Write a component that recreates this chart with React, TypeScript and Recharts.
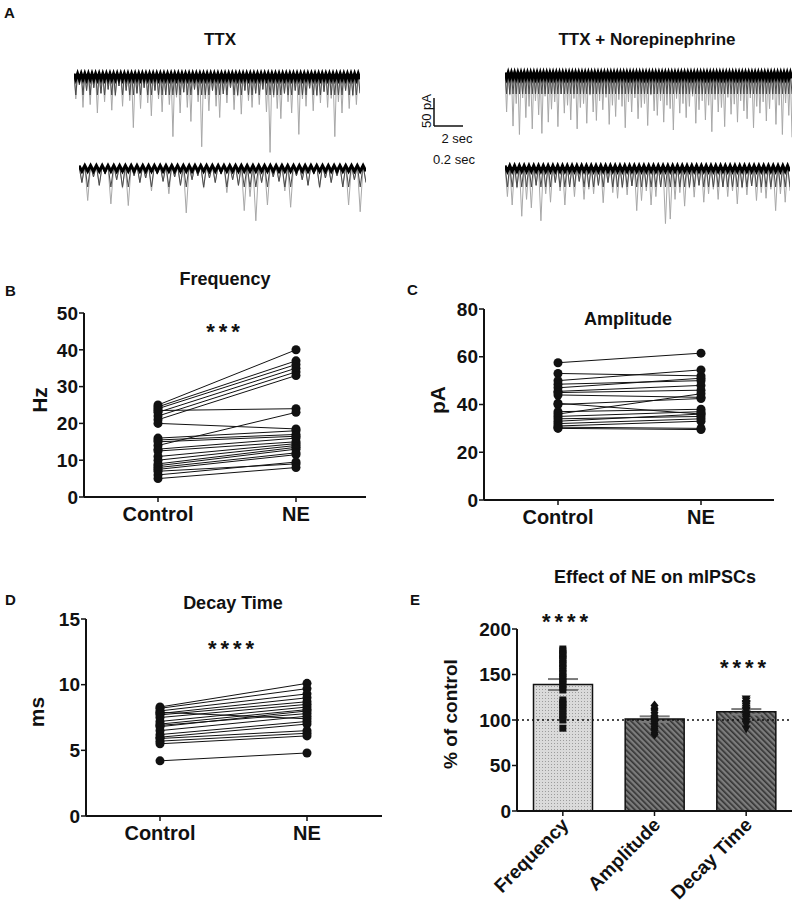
import React from 'react'
import { LineChart, Line, XAxis, YAxis, ComposedChart, Bar, Cell, ErrorBar, ReferenceLine } from 'recharts'

const FONT = '"Liberation Sans", Arial, sans-serif'
const INK = '#111'

// A: event amplitudes of the example traces (pA below baseline)
const ttxSlow = [-45, -20, -60, -30, -55, -25, -70, -35, -50, -28, -65, -40, -22, -58, -30, -48, -96, -35, -62, -25, -52, -75, -30, -45, -68, -38, -55, -112, -42, -70, -33, -60, -85, -28, -50, -130, -45, -66, -30, -58, -78, -36, -52, -25, -64, -40, -72, -30, -48, -60, -35, -55, -28, -68, -140, -42, -62, -80, -35, -50, -70, -30, -108, -45, -58, -26, -66, -40, -52, -32, -60, -44, -112, -50, -70, -30, -62, -40, -55, -35]
const ttxFast = [-30, -62, -20, -35, -15, -68, -25, -40, -71, -18, -30, -22, -45, -15, -28, -50, -20, -35, -84, -25, -18, -40, -22, -30, -15, -48, -25, -35, -80, -55, -98, -30, -70, -20, -28, -45, -74, -18, -25, -35, -15, -40, -22, -30, -18, -38, -70, -25, -82, -30]
const neSlow = [-70, -40, -95, -55, -110, -45, -80, -60, -100, -50, -75, -108, -42, -88, -65, -52, -96, -38, -72, -58, -84, -46, -100, -62, -55, -90, -40, -70, -85, -50, -66, -44, -92, -58, -78, -48, -60, -98, -52, -70, -45, -82, -62, -55, -94, -40, -68, -76, -50, -88, -58, -64, -102, -46, -72, -55, -80, -60, -42, -90, -66, -50, -84, -58, -105, -48, -70, -62, -96, -44, -74, -56, -88, -50, -68, -82, -45, -98, -60, -72, -52, -86, -64, -48, -92, -58, -110, -54, -76, -115]
const neFast = [-55, -70, -40, -90, -60, -75, -35, -98, -50, -65, -30, -45, -70, -38, -55, -28, -60, -42, -50, -35, -66, -30, -48, -58, -40, -52, -36, -80, -62, -45, -70, -55, -38, -103, -95, -60, -48, -72, -40, -56, -35, -65, -50, -42, -60, -38, -55, -45, -68, -40, -52, -36, -62, -48, -58, -42, -80, -50, -65, -45]

// B-D: paired cells, Control -> NE
const conditions = ['Control', 'NE']
const freqControl = [25, 24.5, 24, 23, 22, 21, 23.5, 20, 14, 16, 15.5, 15, 13, 12.5, 11, 10, 9, 8.5, 8, 7.5, 7, 6, 5]
const freqNE = [40, 37, 36, 35, 34, 33, 24, 18.5, 23, 18, 17, 16.5, 16, 15, 14.5, 14, 13.5, 13, 12, 11.5, 9, 9.5, 8]
const freqTicks = [0, 10, 20, 30, 40, 50]

const ampControl = [57.5, 53, 50, 48.5, 47, 45.5, 45, 44, 40.5, 40, 37, 36, 35, 34, 33, 32, 31, 30.5, 30]
const ampNE = [61.5, 52, 54.5, 50, 51, 48, 46, 43, 36, 42.5, 38, 44.5, 37, 35, 36, 34, 33, 30, 29.5]
const ampTicks = [0, 20, 40, 60, 80]

const decayControl = [8.3, 8.2, 8.0, 7.9, 7.8, 7.7, 7.5, 7.2, 7.0, 6.9, 6.8, 6.5, 6.2, 6.0, 5.9, 5.7, 5.5, 4.2]
const decayNE = [10.1, 9.7, 9.3, 7.4, 9.0, 8.7, 8.5, 8.3, 8.1, 7.8, 8.0, 7.6, 7.2, 7.0, 6.5, 6.3, 6.1, 4.8]
const decayTicks = [0, 5, 10, 15]

// E: NE as % of control
const measures = ['Frequency', 'Amplitude', 'Decay Time']
const meanPct = [139, 101, 109]
const semPct = [6, 3, 3]
const freqPct = [178, 176, 173, 171, 168, 166, 162, 160, 157, 153, 151, 147, 145, 142, 139, 136, 133, 122, 119, 117, 113, 110, 106, 103, 100, 91]
const ampPct = [116, 113, 111, 108, 105, 103, 102, 100, 98, 96, 93, 91, 89, 86, 84]
const decayPct = [123, 121, 118, 117, 115, 113, 111, 110, 107, 105, 103, 101, 98, 95, 90]
const pctTicks = [0, 50, 100, 150, 200]

const tickFont = { fontFamily: FONT, fontSize: 19, fontWeight: 700, fill: INK }

function Trace({ events, left, top, width }: { events: number[]; left: number; top: number; width: number }) {
  const data: any[] = []
  events.forEach((d, i) => {
    data.push({ t: 2 * i, v: 0, mid: 0, band: 0 })
    data.push({ t: 2 * i + 1, v: d, mid: Math.max(d, -38), band: Math.max(d, -10) })
  })
  return (
    <div style={{ position: 'absolute', left, top }}>
      <LineChart width={width} height={90} data={data} margin={{ top: 0, right: 0, bottom: 0, left: 0 }}>
        <XAxis dataKey="t" type="number" domain={['dataMin', 'dataMax']} hide />
        <YAxis domain={[-150, 10]} hide />
        <Line dataKey="v" stroke="#a8a8a8" strokeWidth={1} dot={false} isAnimationActive={false} />
        <Line dataKey="mid" stroke="#4a4a4a" strokeWidth={1} dot={false} isAnimationActive={false} />
        <Line dataKey="band" stroke="#000" strokeWidth={3} dot={false} isAnimationActive={false} />
      </LineChart>
    </div>
  )
}

type PairProps = {
  control: number[]
  ne: number[]
  ticks: number[]
  left: number
  top: number
  width: number
  height: number
  marginTop: number
  marginRight: number
  yWidth: number
  padL: number
  padR: number
}

function PairedPanel(p: PairProps) {
  const data = conditions.map((c, j) => {
    const row: any = { name: c }
    p.control.forEach((v, i) => {
      row['c' + i] = j === 0 ? v : p.ne[i]
    })
    return row
  })
  return (
    <div style={{ position: 'absolute', left: p.left, top: p.top }}>
      <LineChart width={p.width} height={p.height} data={data} margin={{ top: p.marginTop, right: p.marginRight, bottom: 0, left: 0 }}>
        <XAxis
          dataKey="name"
          padding={{ left: p.padL, right: p.padR }}
          height={30}
          interval={0}
          axisLine={{ stroke: INK, strokeWidth: 2 }}
          tickLine={{ stroke: INK, strokeWidth: 1.5 }}
          tickSize={5}
          tickMargin={5}
          tick={{ ...tickFont, fontSize: 20 }}
        />
        <YAxis
          domain={[p.ticks[0], p.ticks[p.ticks.length - 1]]}
          ticks={p.ticks}
          width={p.yWidth}
          interval={0}
          axisLine={{ stroke: INK, strokeWidth: 2 }}
          tickLine={{ stroke: INK, strokeWidth: 1.5 }}
          tickSize={5}
          tickMargin={1}
          tick={tickFont}
        />
        {p.control.map((_, i) => (
          <Line
            key={i}
            dataKey={'c' + i}
            stroke={INK}
            strokeWidth={1}
            dot={{ r: 4.5, fill: INK, stroke: INK, strokeWidth: 0 }}
            isAnimationActive={false}
          />
        ))}
      </LineChart>
    </div>
  )
}

function PointMark(props: any) {
  const { cx, cy, payload, value, index, dataKey } = props
  const k = `${dataKey}-${index}`
  if (cx == null || cy == null || value == null) return <g key={k} />
  if (payload.name === 'Frequency') return <rect key={k} x={cx - 3.5} y={cy - 3.5} width={7} height={7} fill={INK} />
  if (payload.name === 'Amplitude')
    return <path key={k} d={`M${cx},${cy - 5} L${cx + 4},${cy} L${cx},${cy + 5} L${cx - 4},${cy} Z`} fill={INK} />
  return <path key={k} d={`M${cx - 4.5},${cy - 3.5} L${cx + 4.5},${cy - 3.5} L${cx},${cy + 4.5} Z`} fill={INK} />
}

function RotTick(props: any) {
  const { x, y, payload } = props
  const ax = x + 7
  const ay = y + 8
  return (
    <text x={ax} y={ay} textAnchor="end" transform={`rotate(-45, ${ax}, ${ay})`} {...tickFont} fontSize={19}>
      {payload.value}
    </text>
  )
}

function PercentPanel() {
  const pts = [freqPct, ampPct, decayPct]
  const n = Math.max(...pts.map((a) => a.length))
  const data = measures.map((m, j) => {
    const row: any = { name: m, mean: meanPct[j], sem: semPct[j] }
    for (let i = 0; i < n; i++) row['p' + i] = pts[j][i] ?? null
    return row
  })
  const fills = ['url(#dots)', 'url(#hatch)', 'url(#hatch)']
  return (
    <div style={{ position: 'absolute', left: 400, top: 610 }}>
      <ComposedChart width={400} height={301} data={data} margin={{ top: 19, right: 8, bottom: 0, left: 0 }} barCategoryGap="18%">
        <defs>
          <pattern id="dots" width="3" height="3" patternUnits="userSpaceOnUse">
            <rect width="3" height="3" fill="#dadada" />
            <rect x="1" y="1" width="1" height="1" fill="#9c9c9c" />
          </pattern>
          <pattern id="hatch" width="4" height="4" patternUnits="userSpaceOnUse" patternTransform="rotate(-45)">
            <rect width="4" height="4" fill="#7c7c7c" />
            <rect width="1.6" height="4" fill="#333" />
          </pattern>
        </defs>
        <XAxis
          dataKey="name"
          height={100}
          interval={0}
          axisLine={{ stroke: INK, strokeWidth: 2 }}
          tickLine={{ stroke: INK, strokeWidth: 1.5 }}
          tickSize={5}
          tick={<RotTick />}
        />
        <YAxis
          domain={[0, 200]}
          ticks={pctTicks}
          width={117}
          interval={0}
          axisLine={{ stroke: INK, strokeWidth: 2 }}
          tickLine={{ stroke: INK, strokeWidth: 1.5 }}
          tickSize={5}
          tickMargin={1}
          tick={tickFont}
        />
        <Bar dataKey="mean" stroke={INK} strokeWidth={1.5} isAnimationActive={false}>
          {data.map((_, j) => (
            <Cell key={j} fill={fills[j]} />
          ))}
          <ErrorBar dataKey="sem" direction="y" width={15} stroke="#7a7a7a" strokeWidth={2} />
        </Bar>
        <ReferenceLine y={100} stroke={INK} strokeWidth={1.5} strokeDasharray="2 3" />
        {Array.from({ length: n }, (_, i) => (
          <Line key={i} dataKey={'p' + i} stroke="none" dot={<PointMark />} activeDot={false} isAnimationActive={false} />
        ))}
      </ComposedChart>
    </div>
  )
}

function Labels() {
  const bold = { fontFamily: FONT, fontWeight: 700, fill: INK }
  const plain = { fontFamily: FONT, fill: INK }
  return (
    <svg width={800} height={918} style={{ position: 'absolute', left: 0, top: 0, pointerEvents: 'none' }}>
      <text x={4} y={18} fontSize={15} {...bold}>A</text>
      <text x={220} y={45} fontSize={17} textAnchor="middle" {...bold}>TTX</text>
      <text x={647} y={45} fontSize={17} textAnchor="middle" {...bold}>TTX + Norepinephrine</text>
      <line x1={434} y1={98} x2={434} y2={126} stroke={INK} strokeWidth={1.5} />
      <line x1={434} y1={126} x2={463} y2={126} stroke={INK} strokeWidth={1.5} />
      <text x={431} y={111} fontSize={13} textAnchor="middle" transform="rotate(-90, 431, 111)" {...plain}>50 pA</text>
      <text x={457} y={143} fontSize={13} textAnchor="middle" {...plain}>2 sec</text>
      <text x={454} y={164} fontSize={13} textAnchor="middle" {...plain}>0.2 sec</text>

      <text x={5} y={296} fontSize={15} {...bold}>B</text>
      <text x={225} y={285} fontSize={18} textAnchor="middle" {...bold}>Frequency</text>
      <text x={225} y={339} fontSize={22} textAnchor="middle" letterSpacing={4} {...bold}>***</text>
      <text x={47} y={400} fontSize={21} textAnchor="middle" transform="rotate(-90, 47, 400)" {...bold}>Hz</text>

      <text x={407} y={295} fontSize={15} {...bold}>C</text>
      <text x={628} y={325} fontSize={18} textAnchor="middle" {...bold}>Amplitude</text>
      <text x={445} y={400} fontSize={21} textAnchor="middle" transform="rotate(-90, 445, 400)" {...bold}>pA</text>

      <text x={5} y={605} fontSize={15} {...bold}>D</text>
      <text x={233} y={609} fontSize={18} textAnchor="middle" {...bold}>Decay Time</text>
      <text x={233} y={656} fontSize={22} textAnchor="middle" letterSpacing={4} {...bold}>****</text>
      <text x={44} y={712} fontSize={21} textAnchor="middle" transform="rotate(-90, 44, 712)" {...bold}>ms</text>

      <text x={410} y={605} fontSize={15} {...bold}>E</text>
      <text x={655} y={583} fontSize={18} textAnchor="middle" {...bold}>Effect of NE on mIPSCs</text>
      <text x={567} y={629} fontSize={22} textAnchor="middle" letterSpacing={4} {...bold}>****</text>
      <text x={745} y={675} fontSize={22} textAnchor="middle" letterSpacing={4} {...bold}>****</text>
      <text x={457} y={714} fontSize={19} textAnchor="middle" transform="rotate(-90, 457, 714)" {...bold}>% of control</text>
    </svg>
  )
}

export default function App() {
  return (
    <div style={{ position: 'absolute', left: 0, top: 0, width: 800, height: 918, background: '#fff', overflow: 'hidden' }}>
      <Trace events={ttxSlow} left={74} top={68} width={286} />
      <Trace events={ttxFast} left={79} top={160} width={287} />
      <Trace events={neSlow} left={505} top={67} width={287} />
      <Trace events={neFast} left={505} top={160} width={285} />

      <PairedPanel control={freqControl} ne={freqNE} ticks={freqTicks} left={0} top={290} width={380} height={237} marginTop={23} marginRight={14} yWidth={84} padL={74} padR={70} />
      <PairedPanel control={ampControl} ne={ampNE} ticks={ampTicks} left={400} top={290} width={380} height={240} marginTop={19} marginRight={6} yWidth={84} padL={74} padR={73} />
      <PairedPanel control={decayControl} ne={decayNE} ticks={decayTicks} left={0} top={600} width={390} height={246} marginTop={19} marginRight={8} yWidth={86} padL={74} padR={75} />
      <PercentPanel />
      <Labels />
    </div>
  )
}
